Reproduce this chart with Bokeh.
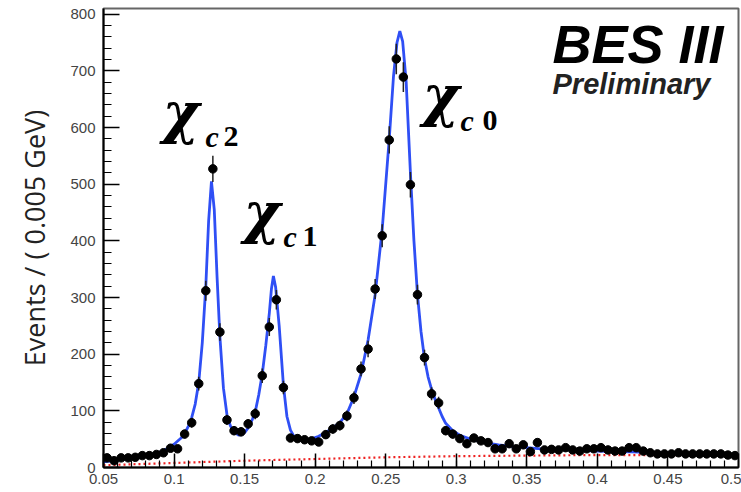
import numpy as np
from bokeh.plotting import figure
from bokeh.models import FixedTicker, Label, ColumnDataSource, Range1d
from bokeh.embed import file_html
from bokeh.resources import INLINE

# ---------------- data ----------------
bin_low = 0.05
bin_width = 0.005
counts = [17, 12, 17, 17, 18, 21, 21, 23, 26, 34,
          33, 59, 79, 148, 312, 527, 239, 84, 65, 63,
          77, 95, 162, 248, 296, 141, 52, 51, 49, 47,
          45, 58, 68, 74, 91, 123, 174, 209, 315, 409,
          578, 721, 689, 499, 305, 194, 130, 114, 65, 59,
          51, 42, 52, 47, 44, 33, 33, 42, 33, 40,
          28, 44, 31, 32, 31, 35, 31, 29, 33, 33,
          35, 31, 29, 29, 35, 35, 29, 26, 24, 24,
          24, 26, 24, 24, 24, 24, 24, 24, 22, 21]

fit_x = [0.050, 0.060, 0.070, 0.080, 0.090, 0.095, 0.100, 0.105, 0.1075, 0.110,
         0.1125, 0.115, 0.1175, 0.120, 0.1225, 0.1245, 0.1265, 0.1285, 0.1305, 0.1325,
         0.135, 0.1375, 0.140, 0.1425, 0.1457, 0.148, 0.1505, 0.1525, 0.1555, 0.1575,
         0.160, 0.1625, 0.165, 0.1675, 0.169, 0.1704, 0.172, 0.1745, 0.1775, 0.180,
         0.1825, 0.185, 0.1875, 0.192, 0.197, 0.2025, 0.2075, 0.2125, 0.2175, 0.2225,
         0.2275, 0.2325, 0.2375, 0.2425, 0.2475, 0.2525, 0.2555, 0.258, 0.260, 0.262,
         0.2645, 0.2675, 0.270, 0.2725, 0.275, 0.2775, 0.280, 0.2825, 0.285, 0.2875,
         0.290, 0.2925, 0.2975, 0.3025, 0.310, 0.320, 0.330, 0.340, 0.350, 0.360,
         0.380, 0.400, 0.430, 0.460, 0.500]
fit_y = [10, 13, 16, 20, 27, 33, 41, 52, 60, 72,
         88, 112, 150, 220, 320, 435, 505, 455, 335, 230,
         140, 93, 73, 63, 57, 58, 63, 70, 85, 98,
         128, 165, 215, 272, 315, 338, 318, 250, 145, 90,
         66, 55, 50, 47, 50, 55, 62, 70, 79, 95,
         125, 165, 225, 305, 420, 580, 690, 750, 770, 752,
         680, 520, 400, 305, 240, 192, 160, 138, 120, 105,
         90, 78, 65, 57, 50, 44, 40, 37, 35, 33,
         31, 29, 27, 25, 23]

bkg_x = [0.05, 0.10, 0.15, 0.20, 0.25, 0.30, 0.35, 0.40, 0.45, 0.50]
bkg_y = [4, 8, 12, 15, 18, 20, 21, 22, 22, 22]

x_ticks = [0.05, 0.10, 0.15, 0.20, 0.25, 0.30, 0.35, 0.40, 0.45, 0.50]
x_tick_labels = ["0.05", "0.1", "0.15", "0.2", "0.25", "0.3", "0.35", "0.4", "0.45", "0.5"]
y_ticks = [0, 100, 200, 300, 400, 500, 600, 700, 800]

# ---------------- derived ----------------
n = len(counts)
xc = np.round(bin_low + bin_width * (np.arange(n) + 0.5), 5)
yv = np.array(counts, dtype=float)
err = np.sqrt(yv)
src = ColumnDataSource(dict(x=xc, y=yv, ylo=yv - err, yhi=yv + err,
                            xlo=xc - bin_width / 2, xhi=xc + bin_width / 2))

p = figure(width=741, height=492, output_backend="svg", toolbar_location=None,
           x_range=Range1d(0.05, 0.5), y_range=Range1d(0, 810),
           min_border_left=103, min_border_right=3, min_border_top=8, min_border_bottom=25)
p.background_fill_color = "white"
p.border_fill_color = "white"
p.outline_line_color = "#666666"
p.outline_line_width = 2
p.xgrid.visible = False
p.ygrid.visible = False

minor_x = [round(0.05 + 0.01 * i, 3) for i in range(46)]
p.xaxis.ticker = FixedTicker(ticks=x_ticks, minor_ticks=minor_x)
p.xaxis.major_label_overrides = {t: l for t, l in zip(x_ticks, x_tick_labels)}
minor_y = list(range(0, 811, 20))
p.yaxis.ticker = FixedTicker(ticks=y_ticks, minor_ticks=minor_y)

for ax in (p.xaxis[0], p.yaxis[0]):
    ax.axis_line_color = "black"
    ax.axis_line_width = 2
    ax.major_tick_in = 14
    ax.major_tick_out = 0
    ax.minor_tick_in = 7
    ax.minor_tick_out = 0
    ax.major_tick_line_color = "black"
    ax.minor_tick_line_color = "black"
    ax.major_tick_line_width = 1.5
    ax.minor_tick_line_width = 1.2
    ax.major_label_text_font = "Liberation Sans"
    ax.major_label_text_font_size = "15px"
    ax.major_label_text_color = "#444444"
p.yaxis.major_tick_in = 16
p.yaxis.minor_tick_in = 8
p.xaxis.major_label_standoff = 6
p.yaxis.major_label_standoff = 8

p.yaxis.axis_label = "Events / ( 0.005 GeV)"
p.yaxis.axis_label_text_font = "Open Sans"
p.yaxis.axis_label_text_font_size = "27px"
p.yaxis.axis_label_text_font_style = "normal"
p.yaxis.axis_label_text_color = "#222222"
p.yaxis.axis_label_standoff = 14

# background (red dashed) and total fit (blue)
p.line(bkg_x, bkg_y, line_color="#ee2222", line_width=2.2, line_dash="2 3")
p.line(fit_x, fit_y, line_color="#2f4ff5", line_width=2.8)

# data with error bars
p.segment(x0="x", y0="ylo", x1="x", y1="yhi", source=src, line_color="#222222", line_width=1.5)
p.segment(x0="xlo", y0="y", x1="xhi", y1="y", source=src, line_color="#222222", line_width=1.5)
p.scatter(x="x", y="y", source=src, size=8.5, fill_color="black", line_color="black")

# ---------------- text ----------------
def add(text, x, y, size, style="normal", font="Liberation Serif", color="black",
        align="left", baseline="alphabetic"):
    p.add_layout(Label(x=x, y=y, text=text, text_font=font, text_font_size=size,
                       text_font_style=style, text_color=color, text_align=align,
                       text_baseline=baseline))

chi_size, sub_size = "56px", "30px"
chi_font = "DejaVu Serif"
# chi_c2
add("χ", 0.0918, 628, chi_size, "bold italic", font=chi_font)
add("c", 0.1223, 584, sub_size, "bold italic")
add("2", 0.1350, 584, sub_size, "bold")
# chi_c1
add("χ", 0.1492, 451, chi_size, "bold italic", font=chi_font)
add("c", 0.1776, 408, sub_size, "bold italic")
add("1", 0.1910, 408, sub_size, "bold")
# chi_c0
add("χ", 0.2761, 658, chi_size, "bold italic", font=chi_font)
add("c", 0.3030, 612, sub_size, "bold italic")
add("0", 0.3186, 612, sub_size, "bold")

add("BES III", 0.3682, 748, "54px", "bold italic", font="Liberation Sans")
add("Preliminary", 0.3682, 676, "29px", "bold italic", font="Liberation Sans", color="#222222")

open("out.html", "w").write(file_html(p, INLINE))
